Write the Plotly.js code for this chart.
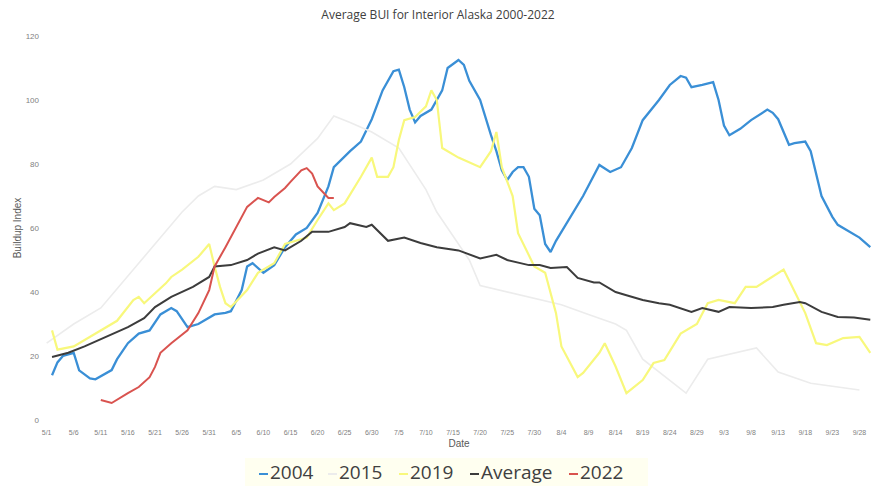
<!DOCTYPE html>
<html>
<head>
<meta charset="utf-8">
<script src="https://cdn.plot.ly/plotly-3.0.1.min.js"></script>
<style>html,body{margin:0;padding:0;background:#fff;}#chart{width:876px;height:486px;}</style>
</head>
<body>
<div id="chart"></div>
<script>
// x = days since May 1
const tickLabels = ["5/1","5/6","5/11","5/16","5/21","5/26","5/31","6/5","6/10","6/15","6/20","6/25","6/30","7/5","7/10","7/15","7/20","7/25","7/30","8/4","8/9","8/14","8/19","8/24","8/29","9/3","9/8","9/13","9/18","9/23","9/28"];
const tickDays = [0,5,10,15,20,25,30,35,40,45,50,55,60,65,70,75,80,85,90,95,100,105,110,115,120,125,130,135,140,145,150];

const days2004 = [1,2,3,5,6,8,9,12,13,15,17,19,21,23,24,26,28,31,33,34,36,37,38,40,42,44,46,48,50,52,53,56,58,60,62,64,65,66,67,68,69,71,73,74,76,77,78,80,82,83,84,85,86,87,88,89,90,91,92,93,94,96,99,102,104,106,108,110,113,115,117,118,119,121,123,124,125,126,128,130,133,134,135,137,138,140,141,143,145,146,149,150,152];
const bui2004 = [14,18,20,21,15.5,13,12.7,15.6,19,24,27,28,33,35,34,29,30,33,33.5,34,40.6,48,49,46,48.4,54,58,60,64.7,73,79,84,87,94,103,109,109.5,104,97,93,95,97,103,110,112.5,111,106,100,89,84,78,75,77.5,79,79,76,66,64,55,52.5,56,61.5,70,79.7,77.5,79,85,93.7,100,104.7,107.5,107,104,104.7,105.6,100,92,89,91,93.7,97,96,94,86,86.5,87,84,70,63.5,61,58,57,54];

const days2015 = [0,5,10,15,20,25,28,31,35,40,45,50,53,56,60,65,70,72,74,78,80,85,90,95,100,105,107,110,118,122,131,135,141,150];
const bui2015 = [24,30,35,45,55,65,70,73,72,75,80,88,95,93,90,85,72,65,60,50,42,40,38,36,33,30,28,19,8.4,19,22.5,15,11.5,9.4];

const days2019 = [1,2,5,10,13,16,17,18,20,22,23,25,28,30,31,32,33,34,37,39,42,44,46,48,50,52,53,55,58,60,61,63,64,65,66,68,70,71,72,73,76,80,82,83,84,86,87,90,92,94,95,98,99,102,103,105,107,110,112,114,117,120,122,124,127,129,131,133,136,137,140,142,144,147,150,152];
const bui2019 = [28,22,23,28,31,37.5,38.5,36.5,39.6,42.7,44.7,47,51,55,48,41.6,36.5,35.3,40.6,46,49,55,56,57,62.5,67.7,65.6,67.7,76,82,76,76,79,87.5,93.7,94.7,98,103,100,85,82,79,84,90,79,70,58.4,48,46,33.4,23,13.4,14.7,21,24,16.7,8.4,12.5,17.8,18.7,27,30,36.5,37.5,36.5,41.6,41.6,43.7,47,43.7,33.4,24,23.4,25.6,26,21];

const daysAvg = [1,4,7,11,15,18,20,23,27,30,31,34,37,39,42,44,47,49,52,55,56,59,60,63,66,69,72,76,80,83,85,89,91,93,96,98,101,102,105,107,110,113,115,119,121,124,126,130,134,136,139,140,143,146,149,152];
const buiAvg = [19.7,21,23,26,29,31.8,35.3,38.5,41.6,44.7,48,48.4,50,52,54,53,56,58.8,58.8,60.3,61.5,60.3,61,56,57,55.3,54,53,50.5,51.6,50,48.4,48.4,47.5,47.8,44.4,43,43,40,39,37.5,36.5,36,33.8,35,33.8,35.3,35,35.3,36,36.9,36.5,33.8,32.2,32,31.3];

const days2022 = [10,12,15,17,19,20,21,23,26,28,30,31,33,35,37,39,41,42,44,45,47,48,49,50,52,53];
const bui2022 = [6.25,5.3,8.4,10.3,13.4,16.6,21,24,28,33.4,40.6,48,54,60.3,66.6,69.4,68,69.7,72.5,74.4,78,78.7,77,73,69.4,69.4];

const seriesNames = ["2004","2015","2019","Average","2022"];
const seriesColors = ["#3a8fd6","#ececec","#f8f87c","#3c3c3c","#d9534f"];
const seriesX = [days2004, days2015, days2019, daysAvg, days2022];
const seriesY = [bui2004, bui2015, bui2019, buiAvg, bui2022];
const widths = [2.3, 1.6, 2.2, 2, 2];

const traces = seriesNames.map((n, i) => ({
  x: seriesX[i], y: seriesY[i], name: n, mode: "lines",
  line: {color: seriesColors[i], width: widths[i]}, showlegend: false
}));

// pixel geometry of plot area
const M = {l: 45, r: 3, t: 36, b: 66};
const W = 876, H = 486;
const pw = W - M.l - M.r, ph = H - M.t - M.b;
const px = v => (v - M.l) / pw;
const py = v => (H - M.b - v) / ph;

// custom compact legend (symbol start pixels)
const legendSym = [259, 328, 399, 470, 569];
const legendY = 472;
const shapes = [{type: "rect", xref: "paper", yref: "paper", x0: px(245), x1: px(648), y0: py(458), y1: py(486),
  fillcolor: "rgba(255,255,200,0.28)", line: {width: 0}, layer: "below"}];
const annotations = [];
seriesNames.forEach((n, i) => {
  const s = legendSym[i];
  shapes.push({type: "line", xref: "paper", yref: "paper", x0: px(s), x1: px(s + 9), y0: py(legendY + 2), y1: py(legendY + 2),
    line: {color: seriesColors[i], width: 2}});
  annotations.push({xref: "paper", yref: "paper", x: px(s + 10), y: py(legendY), xanchor: "left", yanchor: "middle",
    text: n, showarrow: false, borderpad: 0, font: {size: 19, color: "#404040", family: "Open Sans, Liberation Sans, sans-serif"}});
});

const layout = {
  width: W, height: H,
  margin: M,
  paper_bgcolor: "#ffffff", plot_bgcolor: "#ffffff",
  font: {family: "Liberation Sans, Arial, sans-serif", color: "#595959"},
  title: {text: "Average BUI for Interior Alaska 2000-2022", font: {size: 12, color: "#404040", family: "Open Sans, Liberation Sans, sans-serif"}, x: 0.5, xanchor: "center", y: 0.97, yanchor: "middle", yref: "container"},
  xaxis: {
    range: [-0.3, 152.5], tickmode: "array", tickvals: tickDays, ticktext: tickLabels,
    tickfont: {size: 7, color: "#7f7f7f"}, showgrid: false, zeroline: false, showline: false, ticks: "",
    ticklabelstandoff: 7,
    title: {text: "Date", font: {size: 10, color: "#595959"}, standoff: 4}, automargin: false
  },
  yaxis: {
    range: [0, 120], tickvals: [0,20,40,60,80,100,120],
    tickfont: {size: 8, color: "#7f7f7f"}, showgrid: false, zeroline: false, showline: false, ticks: "",
    ticklabelstandoff: 5,
    title: {text: "Buildup Index", font: {size: 10, color: "#595959"}, standoff: 2}, automargin: false
  },
  showlegend: false,
  shapes: shapes,
  annotations: annotations
};

Plotly.newPlot("chart", traces, layout, {displayModeBar: false, staticPlot: true});
</script>
</body>
</html>
